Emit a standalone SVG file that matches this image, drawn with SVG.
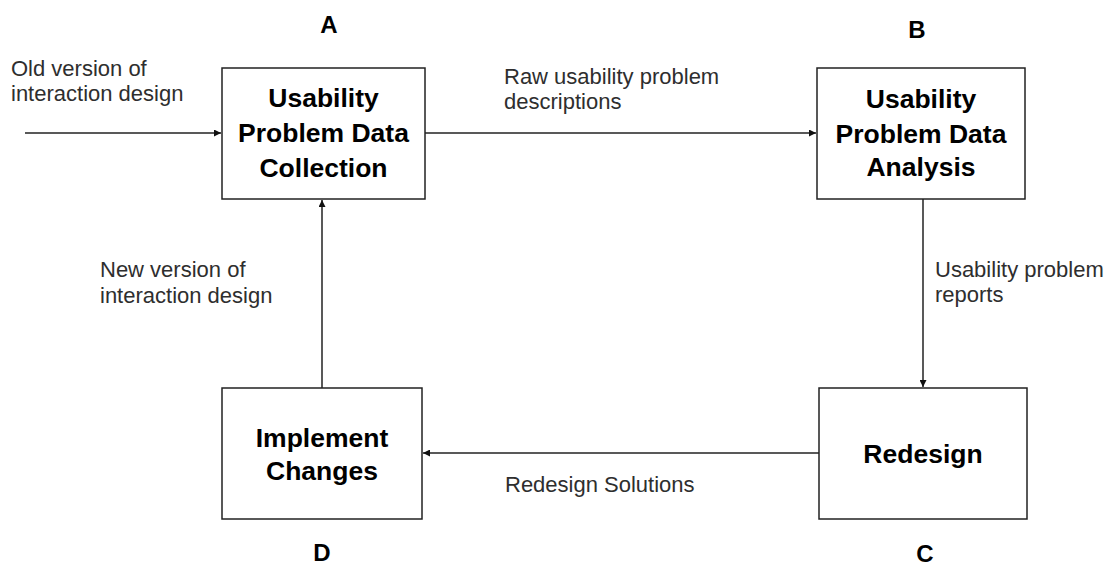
<svg xmlns="http://www.w3.org/2000/svg" width="1107" height="571" viewBox="0 0 1107 571">
  <style>
    .box { fill: #ffffff; stroke: #222222; stroke-width: 1.5; }
    .title { font-family: "Liberation Sans", Arial, sans-serif; font-weight: bold; font-size: 26.5px; fill: #000000; text-anchor: middle; }
    .letter { font-family: "Liberation Sans", Arial, sans-serif; font-weight: bold; font-size: 24px; fill: #000000; text-anchor: middle; }
    .label { font-family: "Liberation Sans", Arial, sans-serif; font-size: 22px; fill: #2e2e2e; }
    .wire { fill: none; stroke: #222222; stroke-width: 1.5; }
  </style>
  <defs>
    <marker id="arrow" viewBox="0 0 10 10" refX="10" refY="5" markerWidth="8" markerHeight="7" markerUnits="userSpaceOnUse" orient="auto">
      <path d="M0,0 L10,5 L0,10 Z" fill="#111111"/>
    </marker>
  </defs>
  <rect width="1107" height="571" fill="#ffffff"/>

  <!-- connectors -->
  <g id="connectors">
    <line class="wire" x1="25" y1="133" x2="221" y2="133" marker-end="url(#arrow)"/>
    <line class="wire" x1="425" y1="133" x2="816" y2="133" marker-end="url(#arrow)"/>
    <line class="wire" x1="923" y1="199" x2="923" y2="387" marker-end="url(#arrow)"/>
    <line class="wire" x1="819" y1="453" x2="423" y2="453" marker-end="url(#arrow)"/>
    <line class="wire" x1="322" y1="388" x2="322" y2="200" marker-end="url(#arrow)"/>
  </g>

  <!-- connector labels -->
  <g id="labels">
    <text class="label" x="11" y="76">Old version of</text>
    <text class="label" x="11" y="101">interaction design</text>
    <text class="label" x="504" y="84">Raw usability problem</text>
    <text class="label" x="504" y="109">descriptions</text>
    <text class="label" x="935" y="277">Usability problem</text>
    <text class="label" x="935" y="302">reports</text>
    <text class="label" x="100" y="277">New version of</text>
    <text class="label" x="100" y="303">interaction design</text>
    <text class="label" x="505" y="492">Redesign Solutions</text>
  </g>

  <!-- A: data collection -->
  <g id="node-a">
    <rect class="box" x="222" y="68" width="203" height="131"/>
    <text class="title" x="323.5" y="107">Usability</text>
    <text class="title" x="323.5" y="142">Problem Data</text>
    <text class="title" x="323.5" y="177">Collection</text>
    <text class="letter" x="329" y="33">A</text>
  </g>

  <!-- B: data analysis -->
  <g id="node-b">
    <rect class="box" x="817" y="68" width="208" height="131"/>
    <text class="title" x="921" y="108">Usability</text>
    <text class="title" x="921" y="143">Problem Data</text>
    <text class="title" x="921" y="176">Analysis</text>
    <text class="letter" x="917" y="38">B</text>
  </g>

  <!-- C: redesign -->
  <g id="node-c">
    <rect class="box" x="819" y="388" width="208" height="131"/>
    <text class="title" x="923" y="463">Redesign</text>
    <text class="letter" x="925" y="562">C</text>
  </g>

  <!-- D: implement changes -->
  <g id="node-d">
    <rect class="box" x="222" y="388" width="200" height="131"/>
    <text class="title" x="322" y="447">Implement</text>
    <text class="title" x="322" y="480">Changes</text>
    <text class="letter" x="322" y="561">D</text>
  </g>
</svg>
